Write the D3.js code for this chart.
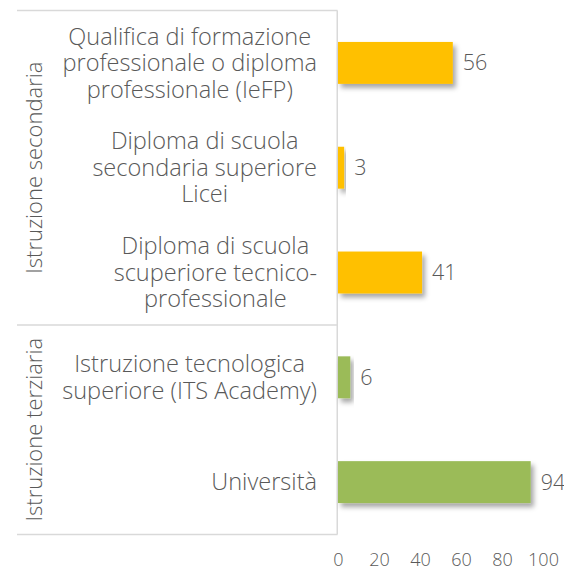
<!DOCTYPE html>
<html>
<head>
<meta charset="utf-8">
<script src="https://cdn.jsdelivr.net/npm/d3@7"></script>
<style>
  html, body { margin: 0; padding: 0; background: #fff; }
  svg { display: block; }
  text { font-family: "Open Sans", Lato, sans-serif; font-weight: 300; fill: #595959; }
</style>
</head>
<body>
<svg id="chart" width="564" height="570"></svg>
<script>
// ---- data ----
const categories = [
  ["Qualifica di formazione", "professionale o diploma", "professionale (IeFP)"],
  ["Diploma di scuola", "secondaria superiore", "Licei"],
  ["Diploma di scuola", "scuperiore tecnico-", "professionale"],
  ["Istruzione tecnologica", "superiore (ITS Academy)"],
  ["Università"]
];
const values = [56, 3, 41, 6, 94];
const groupIndex = [0, 0, 0, 1, 1];
const groups = ["Istruzione secondaria", "Istruzione terziaria"];
const groupColors = ["#FFC000", "#9BBB59"];
const xTicks = [0, 20, 40, 60, 80, 100];

// ---- layout ----
const svg = d3.select("#chart");
const plotLeft = 338, plotRight = 543;
const plotTop = 10.5, plotBottom = 534.5;
const boxLeft = 17;
const labelRight = 317;
const lineH = 26.5;
const fontSize = 21.5;

// fit category font so the first label line is ~243px wide (as in reference)
const probe = svg.append("text").style("font-size", "20px").text(categories[0][0]);
const catFont = Math.min(24, 20 * 243 / probe.node().getComputedTextLength());
probe.remove();

const x = d3.scaleLinear().domain([0, 100]).range([plotLeft, plotRight]);
const y = d3.scaleBand().domain(d3.range(values.length)).range([plotTop, plotBottom])
  .paddingInner(0.6).paddingOuter(0.3);

const defs = svg.append("defs");
const f = defs.append("filter").attr("id", "shadow")
  .attr("x", "-20%").attr("y", "-20%").attr("width", "150%").attr("height", "160%");
f.append("feDropShadow").attr("dx", 3).attr("dy", 4).attr("stdDeviation", 2.5)
  .attr("flood-color", "#000").attr("flood-opacity", 0.35);

// box lines
const lineColor = "#d9d9d9";
const groupBounds = [];
groups.forEach((g, gi) => {
  const idx = d3.range(values.length).filter(i => groupIndex[i] === gi);
  const y0 = y(idx[0]) - y.step() * y.paddingOuter();
  const y1 = y(idx[idx.length - 1]) + y.bandwidth() + y.step() * y.paddingOuter();
  groupBounds.push([y0, y1]);
});
const hLines = [plotTop, groupBounds[0][1], plotBottom];
svg.selectAll("line.h").data(hLines).join("line")
  .attr("x1", boxLeft).attr("x2", plotLeft - 0.5)
  .attr("y1", d => d).attr("y2", d => d)
  .attr("stroke", lineColor).attr("stroke-width", 1.5);
svg.append("line")
  .attr("x1", plotLeft - 0.75).attr("x2", plotLeft - 0.75)
  .attr("y1", plotTop).attr("y2", plotBottom)
  .attr("stroke", lineColor).attr("stroke-width", 1.5);

// bars
svg.selectAll("rect.bar").data(values).join("rect")
  .attr("class", "bar")
  .attr("x", x(0))
  .attr("y", (d, i) => y(i))
  .attr("width", d => x(d) - x(0))
  .attr("height", y.bandwidth())
  .attr("fill", (d, i) => groupColors[groupIndex[i]])
  .attr("filter", "url(#shadow)");

// value labels
svg.selectAll("text.val").data(values).join("text")
  .attr("class", "val")
  .attr("x", d => x(d) + 10)
  .attr("y", (d, i) => y(i) + y.bandwidth() / 2)
  .attr("dy", "0.35em")
  .style("font-size", fontSize + "px")
  .text(d => d);

// category labels (centered block, right-aligned)
categories.forEach((lines, i) => {
  const g = svg.append("g");
  const tmp = lines.map(l => g.append("text").style("font-size", catFont + "px")
    .attr("text-anchor", "middle").text(l));
  const w = d3.max(tmp, t => t.node().getComputedTextLength());
  const cx = labelRight - w / 2;
  const cy = y(i) + y.bandwidth() / 2;
  tmp.forEach((t, li) => {
    t.attr("x", cx)
     .attr("y", cy + (li - (lines.length - 1) / 2) * lineH)
     .attr("dy", "0.35em");
  });
});

// group labels (rotated)
groups.forEach((g, gi) => {
  const cy = (groupBounds[gi][0] + groupBounds[gi][1]) / 2;
  svg.append("text")
    .attr("transform", `translate(34,${cy}) rotate(-90)`)
    .attr("text-anchor", "middle")
    .attr("dy", "0.35em")
    .style("font-size", "22px")
    .text(g);
});

// x axis
const xAxis = d3.axisBottom(x).tickValues(xTicks).tickSize(0).tickPadding(0);
const ax = svg.append("g").attr("transform", `translate(0,553)`).call(xAxis);
ax.select(".domain").remove();
ax.selectAll("text").style("font-size", "18px").attr("fill", "#595959")
  .style("font-family", "'Open Sans', Lato, sans-serif").style("font-weight", 300)
  .attr("dy", "0.71em");
</script>
</body>
</html>
